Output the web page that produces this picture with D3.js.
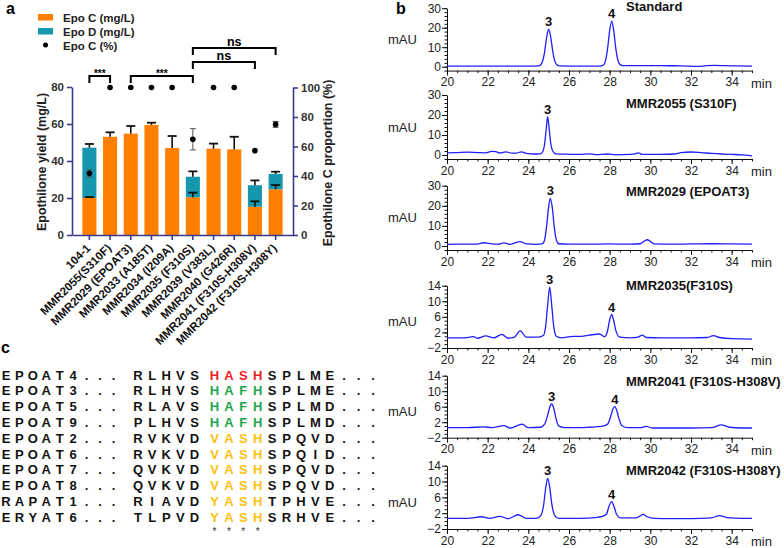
<!DOCTYPE html>
<html>
<head>
<meta charset="utf-8">
<script src="https://cdn.jsdelivr.net/npm/d3@7"></script>
<style>
  body { margin: 0; background: #fff; }
  svg { display: block; }
</style>
</head>
<body>
<svg id="fig" width="784" height="548"></svg>
<script>
// ---------- panel a data ----------
const strains = ["104-1", "MMR2055(S310F)", "MMR2029 (EPOAT3)", "MMR2033 (A185T)", "MMR2034 (I209A)",
  "MMR2035 (F310S)", "MMR2039 (V383L)", "MMR2040 (G426R)", "MMR2041 (F310S-H308V)", "MMR2042 (F310S-H308Y)"];
const epoC = [20.0, 53.1, 54.8, 59.5, 47.0, 20.4, 46.7, 46.3, 15.3, 24.7];
const epoD = [27.2, 0, 0, 0, 0, 11.1, 0, 0, 11.6, 8.3];
const totalErr = [2.0, 2.4, 4.1, 1.2, 6.5, 2.9, 2.7, 6.8, 2.6, 1.2];
const epoCErr = [0.5, 0, 0, 0, 0, 2.5, 0, 0, 2.9, 2.3];
const epoCPct = [41.8, 100, 100, 100, 100, 64.9, 100, 100, 57.2, 75.0];
const pctErr = [2.5, 0, 0, 0, 0, 7.2, 0, 0, 0, 2.0];
const yieldTicks = [0, 20, 40, 60, 80];
const pctTicks = [0, 20, 40, 60, 80, 100];
const sigPairs = [[0, 1], [2, 5], [5, 8], [5, 9]];
const sigLabels = ["***", "***", "ns", "ns"];

// ---------- panel b data ----------
const traceTitles = ["Standard", "MMR2055 (S310F)", "MMR2029 (EPOAT3)", "MMR2035(F310S)",
  "MMR2041 (F310S-H308V)", "MMR2042 (F310S-H308Y)"];
const timeTicks = [20, 22, 24, 26, 28, 30, 32, 34];
const standard = [[20,0.3],[22,0.3],[24,0.3],[24.5,0.4],[24.6,0.9],[24.7,2.8],[24.8,7.5],[24.9,15.0],[25.0,19.2],[25.1,15.2],[25.2,8.0],[25.3,3.0],[25.4,1.0],[25.55,0.4],[26.5,0.3],[27.5,0.3],[27.7,0.9],[27.8,3.2],[27.9,9.5],[28.0,18.5],[28.1,23.4],[28.2,18.5],[28.3,9.5],[28.4,3.5],[28.5,1.2],[28.65,0.6],[29.5,0.6],[30.5,0.6],[31.5,0.4],[32.5,0.2],[32.8,0.6],[33.2,0.7],[33.6,0.5],[34.2,0.4],[35,0.3]];
const mmr2055 = [[20,1.1],[20.5,1.2],[21,1.4],[21.5,1.2],[21.9,1.1],[22.2,1.8],[22.4,1.7],[22.6,1.0],[22.9,1.6],[23.2,0.9],[23.4,0.9],[23.65,1.6],[23.9,0.8],[24.3,0.5],[24.6,0.6],[24.7,1.5],[24.8,5.5],[24.88,13.0],[24.95,19.2],[25.02,13.5],[25.1,6.0],[25.2,2.0],[25.35,0.6],[25.8,0.4],[26.5,0.3],[27.0,0.6],[27.3,0.2],[27.9,0.5],[28.3,0.1],[29.0,0.3],[29.25,0.6],[29.4,1.1],[29.6,0.3],[30.5,0.3],[31.2,0.5],[31.5,1.2],[32.0,1.5],[32.5,1.2],[33.0,0.8],[33.5,0.5],[34.0,0.3],[34.5,0.1],[35,-0.4]];
const mmr2029 = [[20,0.8],[20.5,0.9],[21,0.9],[21.5,0.9],[21.8,1.6],[22.1,1.2],[22.5,0.9],[22.8,1.5],[23.1,0.8],[23.6,2.2],[23.9,1.0],[24.4,0.8],[24.7,1.2],[24.8,3.0],[24.9,10.0],[25.0,19.5],[25.08,23.7],[25.18,19.0],[25.28,9.0],[25.38,3.0],[25.5,1.1],[26,0.9],[27,0.9],[28,1.0],[29,0.9],[29.5,1.1],[29.7,2.4],[29.85,3.1],[30.0,2.3],[30.2,1.0],[31,0.9],[32,1.0],[33,1.1],[34,1.0],[35,0.9]];
const mmr2035 = [[20,0.6],[20.8,0.6],[21.3,0.9],[21.5,0.5],[21.9,1.1],[22.3,0.6],[22.7,1.5],[23.0,0.5],[23.3,0.7],[23.6,2.4],[23.9,0.8],[24.5,0.8],[24.75,1.3],[24.85,3.5],[24.95,9.0],[25.05,13.6],[25.15,9.0],[25.25,3.5],[25.38,1.0],[25.6,0.6],[26.2,1.0],[26.6,1.0],[27.0,1.3],[27.5,1.6],[27.75,0.9],[27.9,2.5],[28.0,5.2],[28.1,6.6],[28.2,5.0],[28.32,2.2],[28.5,0.8],[29.0,0.6],[29.4,0.8],[29.6,1.3],[29.8,0.7],[30.5,0.6],[32,0.6],[32.8,0.7],[33.1,1.2],[33.4,0.7],[34,0.4],[35,0.3]];
const mmr2041 = [[20,0.6],[21,0.6],[21.8,0.8],[22.2,0.6],[22.8,1.1],[23.1,0.5],[23.7,1.5],[24.0,0.6],[24.6,0.7],[24.8,1.5],[24.95,3.8],[25.05,5.8],[25.15,6.7],[25.25,5.6],[25.35,3.2],[25.5,1.0],[25.8,0.6],[26.5,0.6],[27.0,0.7],[27.6,0.9],[27.9,1.5],[28.05,3.5],[28.15,5.3],[28.25,6.0],[28.35,5.0],[28.45,3.0],[28.6,1.1],[28.9,0.6],[29.5,0.6],[29.8,0.9],[30.1,0.5],[31,0.5],[32,0.5],[33.0,0.6],[33.5,1.3],[33.9,0.7],[34.5,0.5],[35,0.5]];
const mmr2042 = [[20,0.7],[21,0.7],[21.7,1.1],[22.1,0.7],[22.6,1.2],[23.0,0.6],[23.5,1.6],[23.9,0.7],[24.4,0.7],[24.6,1.3],[24.75,4.0],[24.85,8.2],[24.95,10.8],[25.05,8.6],[25.15,4.5],[25.3,1.4],[25.5,0.7],[26.5,0.7],[27.3,0.9],[27.6,1.1],[27.85,1.8],[27.95,3.5],[28.1,4.9],[28.22,3.6],[28.35,1.6],[28.55,0.8],[29.3,0.8],[29.5,1.3],[29.65,1.7],[29.85,1.1],[30.2,0.7],[31,0.6],[32,0.6],[33,0.8],[33.4,1.4],[33.8,0.9],[34.5,0.7],[35,0.7]];
const traces = [standard, mmr2055, mmr2029, mmr2035, mmr2041, mmr2042];
const peakLabels = [
  [[25.0, 19.2, "3"], [28.1, 23.4, "4"]],
  [[24.95, 19.2, "3"]],
  [[25.08, 23.7, "3"]],
  [[25.05, 13.6, "3"], [28.1, 6.6, "4"]],
  [[25.15, 6.7, "3"], [28.25, 6.0, "4"]],
  [[24.95, 10.8, "3"], [28.1, 4.9, "4"]]
];

// ---------- panel c data ----------
const atNames = ["EPOAT4", "EPOAT3", "EPOAT5", "EPOAT9", "EPOAT2", "EPOAT6", "EPOAT7", "EPOAT8", "RAPAT1", "ERYAT6"];
const preSeq = ["RLHVS", "RLHVS", "RLAVS", "PLHVS", "RVKVD", "RVKVD", "QVKVD", "QVKVD", "RIAVD", "TLPVD"];
const motifSeq = ["HASH", "HAFH", "HAFH", "HAFH", "VASH", "VASH", "VASH", "VASH", "YASH", "YASH"];
const postSeq = ["SPLME", "SPLME", "SPLMD", "SPLMD", "SPQVD", "SPQID", "SPQVD", "SPQVD", "TPHVE", "SRHVE"];
const motifGroup = ["red", "green", "green", "green", "yellow", "yellow", "yellow", "yellow", "yellow", "yellow"];

// ---------- drawing ----------
const FONT = '"Liberation Sans", Arial, Helvetica, sans-serif';
const svg = d3.select("#fig").attr("font-family", FONT);
const ORANGE = "#ff8000", TEAL = "#1797ad", AXIS = "#3b3b8c";

function styleAxis(g, col, w) {
  g.attr("font-family", FONT);
  g.select(".domain").attr("stroke", col).attr("stroke-width", w);
  g.selectAll(".tick line").attr("stroke", col).attr("stroke-width", w);
}

// panel letters
svg.append("text").attr("x", 6).attr("y", 14).text("a").attr("font-weight", "bold").attr("font-size", 16);
svg.append("text").attr("x", 396).attr("y", 14).text("b").attr("font-weight", "bold").attr("font-size", 16);
svg.append("text").attr("x", 1).attr("y", 353).text("c").attr("font-weight", "bold").attr("font-size", 16);

// ----- panel a -----
const ga = svg.append("g");
const x = d3.scaleBand().domain(strains).range([72, 293]).paddingInner(0.32).paddingOuter(0.5);
const yL = d3.scaleLinear().domain([0, 80]).range([235, 87]);
const yR = d3.scaleLinear().domain([0, 100]).range([235, 87.5]);

ga.selectAll("rect.c").data(strains).join("rect")
  .attr("x", d => x(d)).attr("width", x.bandwidth())
  .attr("y", (d, i) => yL(epoC[i])).attr("height", (d, i) => yL(0) - yL(epoC[i]))
  .attr("fill", ORANGE);
ga.selectAll("rect.d").data(strains).join("rect")
  .attr("x", d => x(d)).attr("width", x.bandwidth())
  .attr("y", (d, i) => yL(epoC[i] + epoD[i])).attr("height", (d, i) => yL(epoC[i]) - yL(epoC[i] + epoD[i]))
  .attr("fill", TEAL);

// error bars (upper only)
strains.forEach((s, i) => {
  const cx = x(s) + x.bandwidth() / 2;
  const tot = epoC[i] + epoD[i];
  const bars = [[tot, totalErr[i]]];
  if (epoD[i] > 0) bars.push([epoC[i], epoCErr[i]]);
  bars.forEach(([v, e]) => {
    ga.append("line").attr("x1", cx).attr("x2", cx).attr("y1", yL(v)).attr("y2", yL(v + e))
      .attr("stroke", "#111").attr("stroke-width", 1.6);
    ga.append("line").attr("x1", cx - 4.5).attr("x2", cx + 4.5).attr("y1", yL(v + e)).attr("y2", yL(v + e))
      .attr("stroke", "#111").attr("stroke-width", 1.8);
  });
  if (pctErr[i] > 0) {
    const y1 = yR(epoCPct[i] - pctErr[i]), y2 = yR(epoCPct[i] + pctErr[i]);
    ga.append("line").attr("x1", cx).attr("x2", cx).attr("y1", y1).attr("y2", y2).attr("stroke", "#555").attr("stroke-width", 1);
    [y1, y2].forEach(yy => ga.append("line").attr("x1", cx - 3).attr("x2", cx + 3).attr("y1", yy).attr("y2", yy)
      .attr("stroke", "#555").attr("stroke-width", 1));
  }
});
ga.selectAll("circle.p").data(strains).join("circle")
  .attr("cx", d => x(d) + x.bandwidth() / 2).attr("cy", (d, i) => yR(epoCPct[i]))
  .attr("r", 2.8).attr("fill", "#000");

// axes
const axL = ga.append("g").attr("transform", "translate(72,0)")
  .call(d3.axisLeft(yL).tickValues(yieldTicks).tickSize(5).tickSizeOuter(0));
const axR = ga.append("g").attr("transform", "translate(293,0)")
  .call(d3.axisRight(yR).tickValues(pctTicks).tickSize(5).tickSizeOuter(0));
const axB = ga.append("g").attr("transform", "translate(0,235)")
  .call(d3.axisBottom(x).tickSize(5).tickSizeOuter(0));
[axL, axR, axB].forEach(g => {
  styleAxis(g, AXIS, 1.6);
  g.selectAll("text").attr("font-size", 11.5).attr("font-weight", "bold").attr("fill", "#333");
});
axB.selectAll("text").attr("font-size", 11.5).attr("fill", "#111")
  .attr("text-anchor", "end").attr("x", 0).attr("y", 0).attr("dy", "0.35em")
  .attr("transform", "translate(-1,11) rotate(-45)");

ga.append("text").attr("transform", "translate(46,162) rotate(-90)").attr("text-anchor", "middle")
  .attr("font-size", 12.5).attr("font-weight", "bold").attr("fill", "#222").text("Epothilone yield (mg/L)");
ga.append("text").attr("transform", "translate(332,163) rotate(-90)").attr("text-anchor", "middle")
  .attr("font-size", 12.5).attr("font-weight", "bold").attr("fill", "#222").text("Epothilone C proportion (%)");

// significance brackets
const sigY = [76, 76, 62, 48];
sigPairs.forEach(([a, b], k) => {
  const x1 = x(strains[a]) + x.bandwidth() / 2, x2 = x(strains[b]) + x.bandwidth() / 2, yy = sigY[k];
  ga.append("path").attr("d", `M${x1},${yy + 7}V${yy}H${x2}V${yy + 7}`)
    .attr("fill", "none").attr("stroke", "#000").attr("stroke-width", 2);
  const star = sigLabels[k] === "***";
  ga.append("text").attr("x", (x1 + x2) / 2).attr("y", star ? yy + 1 : yy - 2.5)
    .attr("text-anchor", "middle").attr("font-size", star ? 10 : 12.5).attr("font-weight", "bold")
    .text(sigLabels[k]);
});

// legend
const lg = ga.append("g");
lg.append("rect").attr("x", 38).attr("y", 14).attr("width", 15).attr("height", 6.5).attr("fill", ORANGE);
lg.append("rect").attr("x", 38).attr("y", 28).attr("width", 15).attr("height", 6.5).attr("fill", TEAL);
lg.append("circle").attr("cx", 45.5).attr("cy", 45).attr("r", 2.5).attr("fill", "#000");
["Epo C (mg/L)", "Epo D (mg/L)", "Epo C (%)"].forEach((t, k) =>
  lg.append("text").attr("x", 63).attr("y", 22 + k * 14).attr("font-size", 11.5).attr("font-weight", "bold")
    .attr("fill", "#222").text(t));

// ----- panel b -----
const gb = svg.append("g");
const xb = d3.scaleLinear().domain([20, 35]).range([447, 752]);
const panelBottom = [70.6, 159, 250, 348, 437.7, 529];
const panelTop = [8.2, 95, 185.7, 285.7, 375.7, 465.7];
const titleY = [11, 108, 196, 290, 386, 475];
const line = d3.line().curve(d3.curveMonotoneX);

traces.forEach((tr, i) => {
  const big = i < 3;
  const dom = big ? [-2, 30] : [-2, 14];
  const y = d3.scaleLinear().domain(dom).range([panelBottom[i], panelTop[i]]);
  const g = gb.append("g");
  const majorY = big ? [0, 10, 20, 30] : [-2, 2, 6, 10, 14];
  const minorY = big ? d3.range(-2, 30.1, 2) : d3.range(-2, 14.1, 1);

  const ax = g.append("g").attr("transform", `translate(0,${panelBottom[i]})`)
    .call(d3.axisBottom(xb).tickValues(timeTicks).tickSize(5).tickSizeOuter(0));
  const axm = g.append("g").attr("transform", `translate(0,${panelBottom[i]})`)
    .call(d3.axisBottom(xb).tickValues(d3.range(20, 35.01, 0.5)).tickSize(2.5).tickFormat(""));
  const ay = g.append("g").attr("transform", "translate(447,0)")
    .call(d3.axisLeft(y).tickValues(majorY).tickSize(5).tickSizeOuter(0));
  const aym = g.append("g").attr("transform", "translate(447,0)")
    .call(d3.axisLeft(y).tickValues(minorY).tickSize(2.5).tickFormat(""));
  [ax, axm, ay, aym].forEach(a => styleAxis(a, "#111", 1));
  axm.select(".domain").remove();
  aym.select(".domain").remove();
  [ax, ay].forEach(a => a.selectAll("text").attr("font-size", 12).attr("fill", "#222"));
  ax.selectAll("text").attr("y", 7);
  ay.selectAll("text").attr("x", -6);

  g.append("text").attr("x", 751).attr("y", panelBottom[i] + 17).attr("font-size", 13).attr("fill", "#222").text("min");
  const mid = (panelBottom[i] + panelTop[i]) / 2 + (big ? 0 : 5);
  g.append("text").attr("x", 388).attr("y", mid).attr("dy", "0.35em").attr("font-size", 13).attr("fill", "#222").text("mAU");
  g.append("text").attr("x", 626).attr("y", titleY[i]).attr("font-size", 13).attr("font-weight", "bold")
    .attr("fill", "#111").text(traceTitles[i]);

  g.append("path").attr("d", line(tr.map(d => [xb(d[0]), y(d[1])])))
    .attr("fill", "none").attr("stroke", "#1e1eff").attr("stroke-width", 1.3);
  peakLabels[i].forEach(([t, v, lab]) =>
    g.append("text").attr("x", xb(t)).attr("y", y(v) - 3).attr("text-anchor", "middle")
      .attr("font-size", 13).attr("font-weight", "bold").attr("fill", "#111").text(lab));
});

// ----- panel c -----
const gc = svg.append("g").attr("font-weight", "bold").attr("font-size", 13);
const col = d3.scaleLinear().domain([0, 8, 10, 14, 15, 26]).range([6, 113.5, 138, 194.5, 214.5, 373]);
const row = d3.scaleLinear().domain([0, 9]).range([375, 517]);
const motifColor = { red: "#ee1c24", green: "#1ca64a", yellow: "#ffbf0f" };

atNames.forEach((name, r) => {
  const cells = [];
  name.split("").forEach((ch, k) => cells.push([k, ch, "#111"]));
  [6, 7, 8].forEach(k => cells.push([k, ".", "#111"]));
  preSeq[r].split("").forEach((ch, k) => cells.push([10 + k, ch, "#111"]));
  motifSeq[r].split("").forEach((ch, k) => cells.push([15 + k, ch, motifColor[motifGroup[r]]]));
  postSeq[r].split("").forEach((ch, k) => cells.push([19 + k, ch, "#111"]));
  [24, 25, 26].forEach(k => cells.push([k, ".", "#111"]));
  gc.selectAll(null).data(cells).join("text")
    .attr("x", d => col(d[0])).attr("y", row(r)).attr("dy", "0.36em")
    .attr("text-anchor", "middle").attr("fill", d => d[2]).text(d => d[1]);
});
gc.selectAll("text.star").data([15, 16, 17, 18]).join("text")
  .attr("x", d => col(d)).attr("y", 535).attr("text-anchor", "middle")
  .attr("font-size", 10).attr("font-weight", "normal").attr("fill", "#333").text("*");
</script>
</body>
</html>
